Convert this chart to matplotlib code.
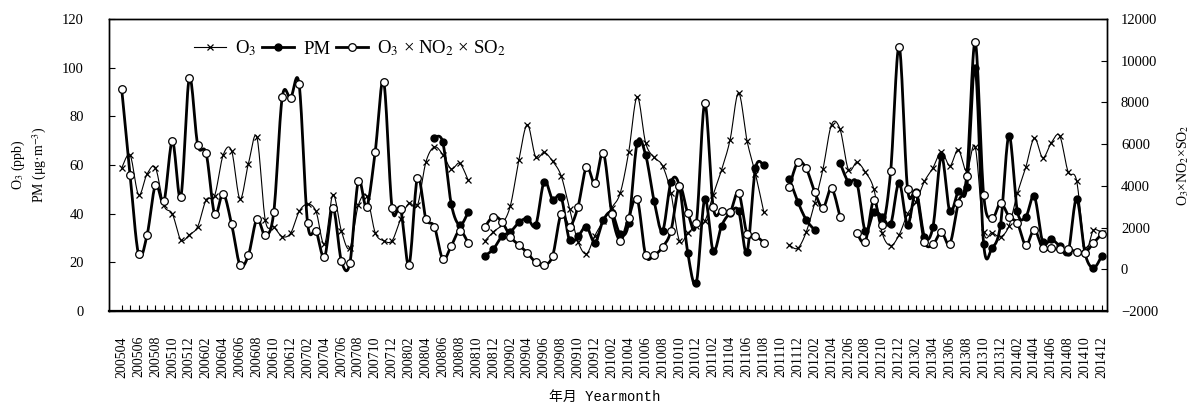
import numpy as np
import matplotlib
matplotlib.use("Agg")
import matplotlib.pyplot as plt
from matplotlib.lines import Line2D

nan = np.nan

# Months 200504 .. 201412
months = [f"{y}{m:02d}" for y in range(2005, 2015) for m in range(1, 13)][3:]

o3 = [58.8, 64.0, 47.8, 56.3, 58.8, 43.4, 39.9, 29.2, 31.3, 34.7,
      45.7, 47.4, 64.0, 65.9, 46.1, 60.6, 71.4, 37.2, 34.6, 30.6,
      32.0, 40.9, 43.9, 40.9, 27.4, 47.8, 32.9, 25.8, 43.4, 47.1,
      32.2, 28.9, 28.9, 37.7, 44.3, 43.4, 61.2, 67.4, 64.3, 58.4,
      60.7, 53.8, nan, 28.9, 32.6, 35.6, 43.3, 61.9, 76.6, 63.2,
      65.2, 61.5, 55.6, 42.0, 28.5, 23.5, 31.0, 37.0, 42.5, 48.5,
      65.3, 88.0, 69.1, 63.1, 59.7, 48.4, 28.8, 32.1, 35.1, 36.9,
      47.8, 58.1, 70.4, 89.6, 70.0, 56.3, 40.5, nan, nan, 27.1,
      25.8, 32.4, 44.3, 58.5, 76.6, 74.8, 58.1, 61.1, 57.1, 50.2,
      32.0, 26.9, 31.3, 39.9, 45.0, 53.3, 58.8, 65.5, 59.6, 66.3,
      57.4, 67.4, 32.6, 32.2, 30.5, 35.0, 48.4, 59.2, 71.0, 63.0,
      69.1, 72.0, 57.2, 53.6, 25.8, 33.2, 32.0]

pm = [nan] * 37 + [
      71.2, 69.3, 44.0, 35.3, 40.6, nan, 22.7, 25.5, 30.7, 32.5, 36.4, 38.0, 35.3,
      53.2, 45.8, 47.0, 29.0, 30.7, 34.7, 28.1, 37.4, 40.4, 31.6,
      36.2, 69.1, 64.2, 45.3, 32.9, 52.9, 51.2, 23.7, 11.7, 46.0,
      24.7, 35.1, 40.2, 41.2, 24.3, 58.6, 59.8, nan, nan,
      54.4, 45.0, 37.5, 33.3, nan, nan, 61.0, 53.0, 52.7, 32.7, 40.6,
      38.8, 35.7, 52.8, 35.4, 48.9, 30.6, 34.5, 63.6, 40.9, 49.3,
      50.8, 100.0, 27.6, 26.0, 35.4, 72.1, 40.9, 38.8, 47.1, 28.2,
      29.5, 26.7, 24.1, 46.1, 23.7, 17.7, 22.8]

prod = [8650, 4530, 720, 1630, 4050, 3250, 6140, 3470, 9150, 5950,
        5560, 2650, 3630, 2180, 210, 680, 2400, 1630, 2740, 8250,
        8220, 8860, 2210, 1840, 580, 2960, 400, 290, 4220, 3000,
        5630, 9000, 2930, 2900, 220, 4400, 2430, 2050, 490, 1120,
        1850, 1270, nan, 2050, 2530, 2280, 1560, 1160, 790, 330,
        210, 650, 2640, 2050, 3000, 4900, 4140, 5580, 2670, 1380,
        2480, 3390, 680, 680, 1060, 1840, 3970, 2690, 2210, 7950,
        2980, 2810, 2740, 3680, 1700, 1600, 1280, nan, nan, 3940,
        5130, 4840, 3720, 2950, 3880, 2530, nan, 1730, 1330, 3330,
        2100, 4700, 10670, 3850, 3680, 1330, 1190, 1780, 1210, 3190,
        4490, 10890, 3580, 2440, 3170, 2530, 2210, 1150, 1900, 1000,
        1000, 950, 950, 850, 800, 1260, 1700]

assert len(months) == len(o3) == len(pm) == len(prod) == 117


def smooth(xv, yv, n=16):
    """Excel-like smoothed line (Bezier through points), broken at NaNs."""
    xv = np.asarray(xv, float)
    yv = np.asarray(yv, float)
    ox, oy = [], []
    valid = ~np.isnan(yv)
    i = 0
    N = len(yv)
    while i < N:
        if not valid[i]:
            i += 1
            continue
        j = i
        while j < N and valid[j]:
            j += 1
        px, py = xv[i:j], yv[i:j]
        m = len(px)
        if m == 1:
            ox += [px[0]]
            oy += [py[0]]
        else:
            t = np.linspace(0, 1, n)
            for k in range(m - 1):
                k0, k3 = max(k - 1, 0), min(k + 2, m - 1)
                p0 = np.array([px[k0], py[k0]])
                p1 = np.array([px[k], py[k]])
                p2 = np.array([px[k + 1], py[k + 1]])
                p3 = np.array([px[k3], py[k3]])
                c1 = p1 + (p2 - p0) / 6
                c2 = p2 - (p3 - p1) / 6
                b = ((1 - t) ** 3)[:, None] * p1 + (3 * (1 - t) ** 2 * t)[:, None] * c1 \
                    + (3 * (1 - t) * t ** 2)[:, None] * c2 + (t ** 3)[:, None] * p2
                ox += list(b[:, 0])
                oy += list(b[:, 1])
        ox.append(nan)
        oy.append(nan)
        i = j
    return ox, oy


plt.rcParams['mathtext.fontset'] = 'stix'
serif = 'Liberation Serif'

fig = plt.figure(figsize=(11.95, 4.13), dpi=100)
ax = fig.add_axes([109/1195, 1-311/413, (1107-109)/1195, (311-19)/413])
x = np.arange(len(months))

sx, sy = smooth(x, o3)
ax.plot(sx, sy, color='black', lw=0.8)
ax.plot(x, o3, ls='none', color='black', marker='x', ms=4.5, mew=0.9)
sx, sy = smooth(x, pm)
ax.plot(sx, sy, color='black', lw=2.0)
ax.plot(x, pm, ls='none', marker='o', ms=5, mfc='black', mec='black')

ax2 = ax.twinx()
sx, sy = smooth(x, prod)
ax2.plot(sx, sy, color='black', lw=2.0)
ax2.plot(x, prod, ls='none', marker='o', ms=5.5, mfc='white', mec='black', mew=0.9)

h1 = Line2D([], [], color='black', lw=0.8, marker='x', ms=4.5, mew=0.9)
h2 = Line2D([], [], color='black', lw=2.0, marker='o', ms=5, mfc='black')
h3 = Line2D([], [], color='black', lw=2.0, marker='o', ms=5.5, mfc='white', mew=0.9)

ax.set_xlim(-1.5, 116.6)
ax.set_ylim(0, 120)
ax.set_yticks(range(0, 121, 20))
ax2.set_ylim(-2000, 12000)
ax2.set_yticks(range(-2000, 12001, 2000))

ax.set_xticks(x)
ax.set_xticklabels([m if i % 2 == 0 else '' for i, m in enumerate(months)],
                   rotation=90, fontsize=10, family=serif)
ax.tick_params(axis='x', direction='in', length=4, width=0.8, pad=18)
ax.tick_params(axis='y', direction='in', length=4, width=0.8, labelsize=10.5, pad=18)
ax2.tick_params(axis='y', direction='in', length=4, width=0.8, labelsize=10.5, pad=10)
for lab in ax.get_yticklabels() + ax2.get_yticklabels():
    lab.set_family(serif)
for a in (ax, ax2):
    for s in a.spines.values():
        s.set_linewidth(1.0)
ax.spines['bottom'].set_linewidth(1.6)

ax.legend(handles=[h1, h2, h3], labels=['O$_3$', 'PM', 'O$_3$ × NO$_2$ × SO$_2$'],
          loc='upper left', bbox_to_anchor=(0.068, 0.99),
          ncol=3, frameon=False, handlelength=1.7,
          handletextpad=0.5, columnspacing=0.3, prop={'family': serif, 'size': 13.5})

fig.text(18/1195, 1-165/413, 'O$_3$ (ppb)', rotation=90, ha='center', va='center',
         fontsize=10, family=serif)
fig.text(40/1195, 1-165/413, 'PM (μg·m$^{-3}$)', rotation=90, ha='center', va='center',
         fontsize=10, family=serif)
fig.text(1183/1195, 1-165/413, 'O$_3$×NO$_2$×SO$_2$', rotation=90, ha='center', va='center',
         fontsize=10, family=serif)
fig.text(605/1195, 1-397/413, '年月 Yearmonth', ha='center', va='center',
         fontsize=10, family=['Liberation Mono', 'Noto Sans CJK SC'])

fig.savefig('out.png', dpi=100)
